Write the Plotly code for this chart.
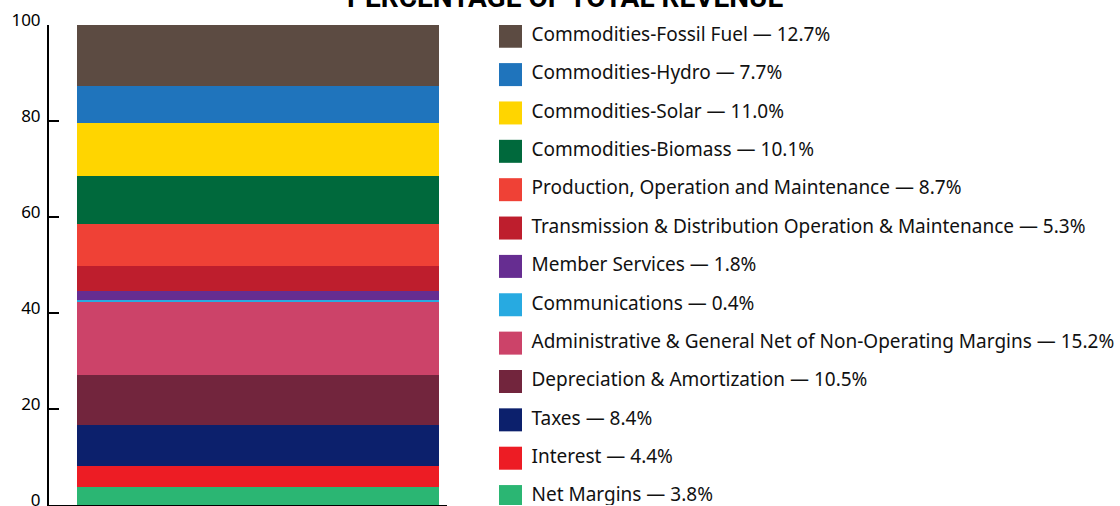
import plotly.graph_objects as go

# Legend / stacking order (top to bottom)
categories = [
    "Commodities-Fossil Fuel",
    "Commodities-Hydro",
    "Commodities-Solar",
    "Commodities-Biomass",
    "Production, Operation and Maintenance",
    "Transmission & Distribution Operation & Maintenance",
    "Member Services",
    "Communications",
    "Administrative & General Net of Non-Operating Margins",
    "Depreciation & Amortization",
    "Taxes",
    "Interest",
    "Net Margins",
]
values = [12.7, 7.7, 11.0, 10.1, 8.7, 5.3, 1.8, 0.4, 15.2, 10.5, 8.4, 4.4, 3.8]
colors = [
    "#5C4B42", "#1F74BC", "#FFD500", "#00693C", "#EF4136", "#BE1E2D",
    "#662D91", "#27AAE1", "#CC4369", "#72253D", "#0C206C", "#ED1C24", "#2BB673",
]
y_ticks = [0, 20, 40, 60, 80, 100]
title_text = "PERCENTAGE OF TOTAL REVENUE"

FONT = "Noto Sans"
W, H = 1120, 506
ML, MR, MT, MB = 49, 0, 25, 1
PW = W - ML - MR

fig = go.Figure()

# stacked bar: bottom segment first
for name, val, col in reversed(list(zip(categories, values, colors))):
    fig.add_trace(go.Bar(
        x=[0], y=[val], name=name, marker=dict(color=col, line=dict(width=0)),
        width=1, showlegend=False, hoverinfo="skip",
    ))

# custom legend drawn on its own axes
idx = list(range(len(categories)))
labels = [f"{c} — {v:.1f}%" for c, v in zip(categories, values)]
fig.add_trace(go.Scatter(
    x=[0] * len(idx), y=idx, mode="markers",
    marker=dict(symbol="square", size=23, color=colors, line=dict(width=0)),
    xaxis="x2", yaxis="y2", showlegend=False, hoverinfo="skip",
))
fig.add_trace(go.Scatter(
    x=[21] * len(idx), y=idx, mode="text", text=labels,
    textposition="middle right",
    textfont=dict(family=FONT, size=19, color="#111111"),
    xaxis="x2", yaxis="y2", showlegend=False, hoverinfo="skip",
))

x_dom_end = (447 - ML) / PW
leg_start = (499 - ML) / PW

fig.update_layout(
    width=W, height=H,
    margin=dict(l=ML, r=MR, t=MT, b=MB, autoexpand=False),
    paper_bgcolor="white", plot_bgcolor="white",
    barmode="stack",
    bargap=0,
    xaxis=dict(domain=[0, x_dom_end], range=[-0.577, 0.522], showline=True,
               linecolor="black", linewidth=2, showticklabels=False, ticks="",
               showgrid=False, zeroline=False, fixedrange=True,
               automargin=False),
    yaxis=dict(range=[0, 100], tickvals=y_ticks, ticks="inside", ticklen=10,
               tickwidth=2, tickcolor="black", showline=True, linecolor="black",
               linewidth=2, showgrid=False, zeroline=False,
               tickfont=dict(family=FONT, size=17, color="black"),
               ticklabelshift=-5, ticklabelstandoff=3,
               ticklabeloverflow="allow", automargin=False),
    xaxis2=dict(domain=[leg_start, 1], range=[-11.5, 609.5], visible=False,
                anchor="y2", fixedrange=True, automargin=False),
    yaxis2=dict(domain=[0, 1], range=[12.22, -0.293], visible=False,
                anchor="x2", fixedrange=True, automargin=False),
    annotations=[dict(
        text=f"<b>{title_text}</b>", xref="paper", yref="paper",
        x=(565 - ML) / PW, y=1, yanchor="middle", yshift=28, showarrow=False,
        font=dict(family="Roboto", size=28, color="black"),
    )],
    showlegend=False,
)

fig.write_html("out.html")
